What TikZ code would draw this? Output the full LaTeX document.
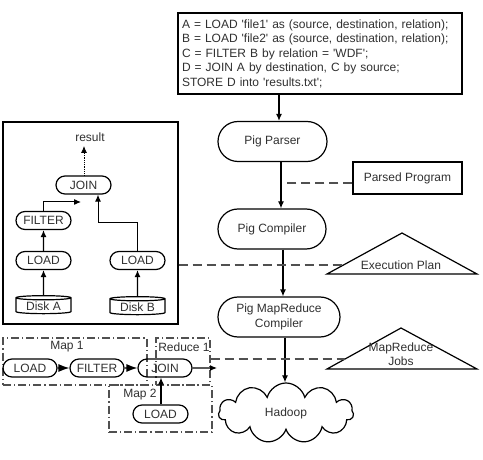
\documentclass[tikz,border=0pt]{standalone}
\usepackage{fontspec}
\setmainfont{Liberation Sans}
\usetikzlibrary{shapes.misc,shapes.geometric,shapes.symbols,arrows.meta,calc}
\definecolor{txt}{HTML}{303030}
\definecolor{dsh}{HTML}{505050}
\newcommand\sq{\textquotesingle}
\begin{document}
\begin{tikzpicture}[x=1pt,y=-1pt,line width=1.2pt,
  font=\fontsize{12}{14.5}\selectfont, text=txt,
  pill/.style={draw, rounded rectangle, inner sep=0pt, minimum height=18pt},
  bigpill/.style={draw, rounded rectangle, inner sep=0pt, minimum height=40pt, align=center},
  disk/.style={draw, cylinder, shape border rotate=90, aspect=0.12, inner sep=0pt, minimum width=55pt, minimum height=18pt},
  arr/.style={-{Latex[length=7pt,width=6pt]}},
  bigarr/.style={-{Latex[length=11pt,width=8pt]}},
  dline/.style={dsh, dash pattern=on 9pt off 5pt},
  dashdot/.style={draw=dsh, dash pattern=on 8pt off 3pt on 1.2pt off 3pt},
  lbl/.style={inner sep=0pt}]
\useasboundingbox (0,0) rectangle (483,460);

% code box
\node[draw, minimum width=284pt, minimum height=81pt, text width=276pt, align=left, inner sep=2pt] (code) at (320,53.5)
 {A = LOAD \sq file1\sq{} as (source, destination, relation);\\
  B = LOAD \sq file2\sq{} as (source, destination, relation);\\
  C = FILTER B by relation = \sq WDF\sq;\\
  D = JOIN A by destination, C by source;\\
  STORE D into \sq results.txt\sq;};

% main chain
\node[bigpill, minimum width=109pt] (parser) at (272.5,141.5) {Pig Parser};
\node[bigpill, minimum width=108pt] (compiler) at (272,229) {Pig Compiler};
\node[bigpill, minimum width=122pt] (mrc) at (279,317) {Pig MapReduce\\Compiler};
\node[cloud, draw, cloud puffs=11, aspect=2.3, minimum width=135pt, minimum height=60pt, inner sep=0pt] (hadoop) at (286,413) {Hadoop};

\draw[arr] (code.south -| 279,0) -- (parser.north -| 279,0);
\draw[arr] (parser.south -| 281,0) -- (compiler.north -| 281,0);
\draw[arr] (compiler.south -| 283,0) -- (mrc.north -| 283,0);
\draw[arr] (mrc.south -| 285,0) -- (hadoop.north -| 285,0);

% parsed program
\node[draw, minimum width=109pt, minimum height=32pt, inner sep=0pt] (parsed) at (407.5,178) {Parsed Program};
\coordinate (pp) at (287,183);
\draw[dline] (parsed.west |- pp) -- (pp);

% execution plan triangle
\coordinate (ep1) at (327,274);
\coordinate (ep2) at (402,233);
\coordinate (ep3) at (477,274);
\draw (ep1) -- (ep2) -- (ep3) -- cycle;
\node[lbl] (eptxt) at (401,265) {Execution Plan};
\coordinate (epl) at (343.5,265);

% mapreduce jobs triangle
\coordinate (mj1) at (327,369);
\coordinate (mj2) at (401,328);
\coordinate (mj3) at (477,369);
\draw (mj1) -- (mj2) -- (mj3) -- cycle;
\node[lbl, align=center] (mjtxt) at (401,354) {MapReduce\\Jobs};
\coordinate (mjl) at (345,359);

% left logical plan box
\node[draw, minimum width=175pt, minimum height=202pt, inner sep=0pt] (ltree) at (90.5,223) {};
\node[lbl] (result) at (90,137) {result};
\node[pill, minimum width=55pt] (join) at (83.5,185) {JOIN};
\node[pill, minimum width=55pt] (filter) at (43.5,220.5) {FILTER};
\node[pill, minimum width=55pt] (loada) at (43.5,260.5) {LOAD};
\node[pill, minimum width=55pt] (loadb) at (137.5,260.5) {LOAD};
\node[disk] (diska) at (43.5,306) {Disk A};
\node[disk] (diskb) at (137.5,307) {Disk B};

\draw[arr] (diska) -- (loada);
\draw[arr] (diskb) -- (loadb);
\draw[arr] (loada) -- (filter);
\coordinate (jl) at (81,202);
\draw[arr, line width=1pt] (filter.north) |- (jl);
\draw[arr, line width=1pt] (loadb.north) |- (98,223) -- (join.south -| 98,0);
\draw[-{Latex[length=7pt,width=6pt]}, densely dotted, line width=0.8pt] (join.north -| 84,0) -- (84,146) coordinate (rt);

\draw[dline] (ltree.east |- epl) -- (epl);

% physical plan
\node[dashdot, minimum width=144pt, minimum height=47pt, inner sep=0pt] (map1) at (75,361.5) {};
\node[dashdot, minimum width=54pt, minimum height=47pt, inner sep=0pt] (red1) at (183,361.5) {};
\node[dashdot, minimum width=103pt, minimum height=47pt, inner sep=0pt] (map2) at (160.5,408.5) {};
\node[lbl] (map1t) at (67,347) {Map 1};
\node[lbl] (red1t) at (184,347) {Reduce 1};
\node[lbl] (map2t) at (140,395) {Map 2};

\node[pill, minimum width=54pt] (l1) at (30,368) {LOAD};
\node[pill, minimum width=54pt] (f1) at (97,368) {FILTER};
\node[pill, minimum width=54pt] (j1) at (165,368) {JOIN};
\node[pill, minimum width=55pt] (l2) at (160.5,414) {LOAD};
\coordinate (jout) at (217,368);

\draw[bigarr] (l1) -- (f1);
\draw[bigarr] (f1) -- (j1);
\draw[arr] (j1) -- (jout);
\draw[arr] (l2.north -| 161,0) -- (j1.south -| 161,0);

\draw[dline] (red1.east |- mjl) -- (mjl);
\end{tikzpicture}
\end{document}
